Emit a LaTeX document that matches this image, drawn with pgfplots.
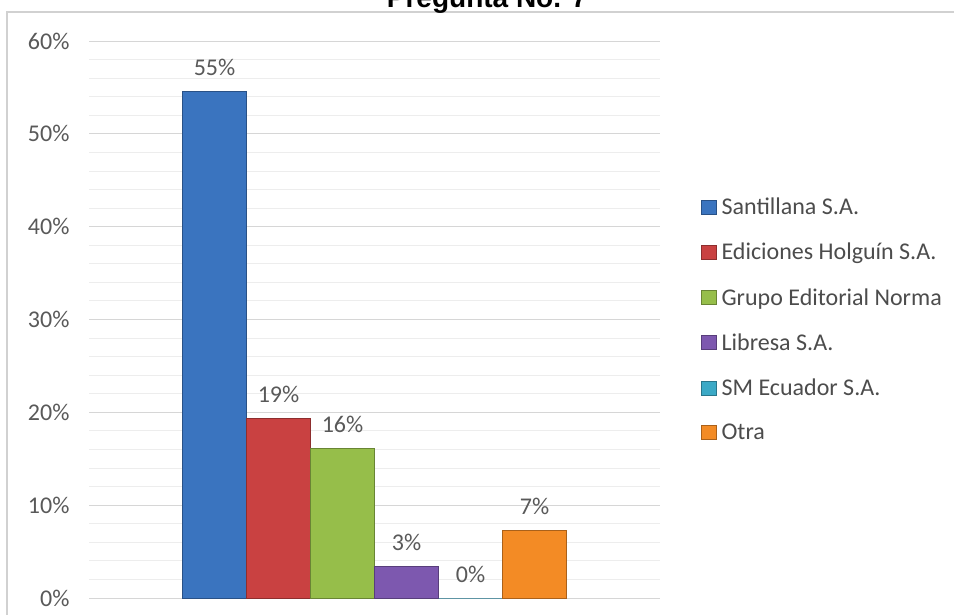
\documentclass[border=0pt]{standalone}
\usepackage{fontspec}
\setmainfont{Carlito}
\newfontfamily\titlefont{Liberation Sans}
\usepackage{pgfplots}
\pgfplotsset{compat=1.18}
\definecolor{cSant}{HTML}{3A74BF}
\definecolor{cHolg}{HTML}{C94141}
\definecolor{cNorm}{HTML}{96BE4A}
\definecolor{cLibr}{HTML}{7D58AF}
\definecolor{cSMEc}{HTML}{3BA9C6}
\definecolor{cOtra}{HTML}{F38B25}
\begin{document}
\begin{tikzpicture}
	% page = 954 x 614 px, 1px = 1pt
	\path[use as bounding box] (0pt,0pt) rectangle (954pt,-614pt);
	\draw[black!18, line width=1.2pt] (7pt,-650pt) -- (7pt,-12pt) -- (990pt,-12pt);
	\node[anchor=base, font=\titlefont\bfseries\fontsize{28}{30}\selectfont] at (487pt,-7pt) {Pregunta No. 7};
	\begin{axis}[
	at={(89pt,-598pt)}, anchor=south west,
	scale only axis, width=571pt, height=557pt,
	xmin=-1, xmax=1, ymin=0, ymax=60,
	ybar=0pt, bar width=64pt,
	ytick={0,10,...,60}, minor y tick num=4,
	ymajorgrids, yminorgrids,
	major grid style={draw=black!16, line width=0.9pt},
	minor grid style={draw=black!7, line width=0.9pt},
	xtick=\empty,
	axis line style={draw=none},
	major tick length=0pt, minor tick length=0pt,
	/pgf/number format/assume math mode=true,
	yticklabel={\pgfmathprintnumber{\tick}\%},
	tick label style={font=\fontsize{24}{28}\selectfont, text=black!65},
	yticklabel style={xshift=-16pt},
	nodes near coords={\pgfmathprintnumber[fixed,precision=0]{\pgfplotspointmeta}\%},
	every node near coord/.append style={font=\fontsize{24}{28}\selectfont, text=black!65, yshift=12pt},
	legend style={at={(1,0.5)}, anchor=west, xshift=41pt, draw=none, fill=none,
		font=\fontsize{24}{28}\selectfont, text=black!70, row sep=27pt, inner sep=0pt,
		nodes={inner xsep=5pt, inner ysep=0pt}},
	legend cell align=left,
	legend image code/.code={\filldraw[#1] (0pt,-7pt) rectangle (15pt,7pt);},
	]
	\addplot[fill=cSant, draw=cSant!70!black] coordinates {(0,54.6)};
	\addplot[fill=cHolg, draw=cHolg!70!black] coordinates {(0,19.4)};
	\addplot[fill=cNorm, draw=cNorm!70!black] coordinates {(0,16.1)};
	\addplot[fill=cLibr, draw=cLibr!70!black] coordinates {(0,3.4)};
	\addplot[fill=cSMEc, draw=cSMEc!70!black] coordinates {(0,0)};
	\addplot[fill=cOtra, draw=cOtra!70!black] coordinates {(0,7.3)};
	\legend{Santillana S.A., Ediciones Holguín S.A., Grupo Editorial Norma, Libresa S.A., SM Ecuador S.A., Otra}
	\end{axis}
\end{tikzpicture}
\end{document}
